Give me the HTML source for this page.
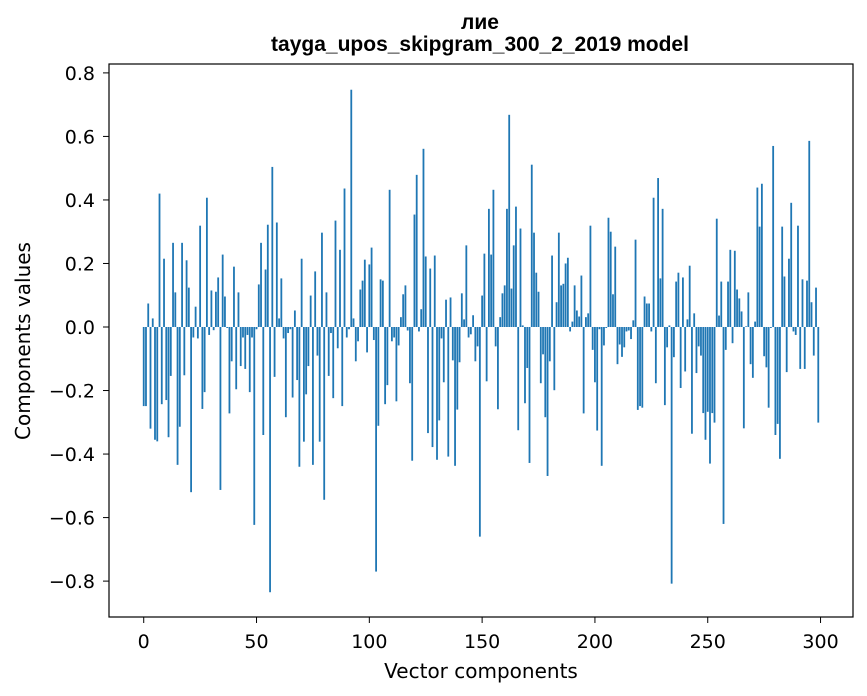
<!DOCTYPE html>
<html><head><meta charset="utf-8"><style>
html,body{margin:0;padding:0;background:#fff;}
svg{display:block;font-family:"DejaVu Sans","Liberation Sans",sans-serif;}
</style></head><body>
<svg id="chart" width="867" height="696" viewBox="0 0 867 696">
<rect width="867" height="696" fill="#fff"/>
<text x="480" y="29" text-anchor="middle" font-size="21" font-weight="bold" font-family="Liberation Sans, sans-serif">лие</text>
<text x="480" y="51" text-anchor="middle" font-size="21" font-weight="bold" font-family="Liberation Sans, sans-serif">tayga_upos_skipgram_300_2_2019 model</text>
<g id="bars"></g>
<rect x="109" y="64" width="744" height="553" fill="none" stroke="#000" stroke-width="1.2"/>
<g id="xt"></g>
<g id="yt"></g>
<text x="481" y="678" text-anchor="middle" font-size="20">Vector components</text>
<text transform="translate(30,341) rotate(-90)" text-anchor="middle" font-size="20">Components values</text>
</svg>
<script>
const values=[-0.249,-0.249,0.074,-0.32,0.027,-0.355,-0.36,0.42,-0.243,0.215,
-0.23,-0.347,-0.154,0.265,0.109,-0.434,-0.314,0.265,-0.152,0.21,
0.124,-0.52,-0.033,0.064,-0.036,0.319,-0.258,-0.205,0.407,-0.025,
0.115,-0.01,0.111,0.156,-0.513,0.228,0.096,-0.003,-0.272,-0.108,
0.19,-0.196,0.109,-0.123,-0.033,-0.132,-0.025,-0.205,-0.033,-0.623,
-0.007,0.134,0.265,-0.34,0.181,0.322,-0.835,0.504,-0.157,0.329,
0.027,0.153,-0.036,-0.284,-0.019,-0.007,-0.222,0.052,-0.167,-0.44,
0.215,-0.361,-0.212,-0.123,0.099,-0.434,0.175,-0.09,-0.361,0.297,
-0.544,0.109,-0.154,-0.019,-0.224,0.335,-0.067,0.243,-0.249,0.436,
-0.033,-0.007,0.747,0.027,-0.108,-0.045,0.118,0.146,0.212,-0.08,
0.197,0.25,-0.041,-0.77,-0.311,0.15,0.146,-0.243,-0.183,0.432,
-0.045,-0.033,-0.234,-0.058,0.031,0.103,0.131,-0.011,-0.177,-0.421,
0.354,0.479,-0.014,0.056,0.561,0.222,-0.334,0.184,-0.378,0.225,
-0.418,-0.294,-0.036,-0.174,0.086,-0.408,0.093,-0.105,-0.437,-0.26,
-0.111,0.106,0.024,0.257,-0.033,-0.023,0.037,-0.108,-0.061,-0.66,
0.099,0.231,-0.171,0.372,0.228,0.432,-0.061,-0.259,0.031,0.106,
0.131,0.372,0.668,0.121,0.257,0.379,-0.325,0.31,0.005,-0.24,
-0.129,-0.428,0.511,0.297,0.171,0.111,-0.177,-0.086,-0.284,-0.469,
-0.108,0.225,-0.199,0.078,0.297,0.131,0.136,0.2,0.218,-0.014,
0.017,0.131,0.052,0.033,0.162,-0.272,0.031,0.043,0.319,-0.072,
-0.174,-0.326,-0.007,-0.437,-0.058,-0.003,0.344,0.3,0.103,0.253,
-0.117,-0.055,-0.094,-0.064,-0.014,-0.011,-0.038,0.021,0.275,-0.261,
-0.249,-0.254,0.096,0.074,0.074,-0.014,0.407,-0.177,0.469,0.153,
0.372,-0.246,-0.064,0.005,-0.808,-0.095,0.143,0.171,-0.192,0.156,
-0.14,0.024,0.193,-0.336,0.043,-0.145,-0.061,-0.09,-0.271,-0.355,
-0.267,-0.43,-0.271,-0.301,0.341,0.036,0.143,-0.62,-0.072,0.143,
0.243,-0.051,0.24,0.118,0.09,0.049,-0.319,0.002,0.109,-0.117,
-0.16,0.017,0.439,0.316,0.451,-0.092,-0.127,-0.254,-0.003,0.57,
-0.34,-0.305,-0.415,0.316,0.159,-0.142,0.215,0.391,-0.014,-0.025,
0.319,-0.132,0.15,-0.132,0.146,0.586,0.078,-0.09,0.124,-0.301];
const xTicks=[0,50,100,150,200,250,300];
const yTicks=[-0.8,-0.6,-0.4,-0.2,0.0,0.2,0.4,0.6,0.8];
const yTickLabels=["\u22120.8","\u22120.6","\u22120.4","\u22120.2","0.0","0.2","0.4","0.6","0.8"];
const NS="http://www.w3.org/2000/svg";
const X0=109,X1=853,Y0=64,Y1=617,XMIN=-15.39,XMAX=314.39,YMIN=-0.913,YMAX=0.828;
function xs(v){return X0+(v-XMIN)/(XMAX-XMIN)*(X1-X0);}
function ys(v){return Y1-(v-YMIN)/(YMAX-YMIN)*(Y1-Y0);}
const bars=document.getElementById('bars');
const bw=xs(0.8)-xs(0);
values.forEach((v,i)=>{
  const r=document.createElementNS(NS,'rect');
  const y=Math.min(ys(v),ys(0));
  r.setAttribute('x',xs(i)-bw/2);
  r.setAttribute('y',y);
  r.setAttribute('width',bw);
  r.setAttribute('height',Math.abs(ys(v)-ys(0)));
  r.setAttribute('fill','#1f77b4');
  
  
  bars.appendChild(r);
});
const xt=document.getElementById('xt');
xTicks.forEach(t=>{
  const l=document.createElementNS(NS,'line');
  l.setAttribute('x1',xs(t));l.setAttribute('x2',xs(t));
  l.setAttribute('y1',Y1);l.setAttribute('y2',Y1+6);
  l.setAttribute('stroke','#000');
  
  
  xt.appendChild(l);
  const tx=document.createElementNS(NS,'text');
  tx.setAttribute('x',xs(t));tx.setAttribute('y',Y1+31);
  tx.setAttribute('text-anchor','middle');tx.setAttribute('font-size','19');
  tx.textContent=String(t);
  
  
  xt.appendChild(tx);
});
const yt=document.getElementById('yt');
yTicks.forEach((t,i)=>{
  const l=document.createElementNS(NS,'line');
  l.setAttribute('x1',X0-6);l.setAttribute('x2',X0);
  l.setAttribute('y1',ys(t));l.setAttribute('y2',ys(t));
  l.setAttribute('stroke','#000');
  
  
  yt.appendChild(l);
  const tx=document.createElementNS(NS,'text');
  tx.setAttribute('x',X0-14);tx.setAttribute('y',ys(t)+7);
  tx.setAttribute('text-anchor','end');tx.setAttribute('font-size','19');
  tx.textContent=yTickLabels[i];
  
  
  yt.appendChild(tx);
});
</script>
</body></html>
